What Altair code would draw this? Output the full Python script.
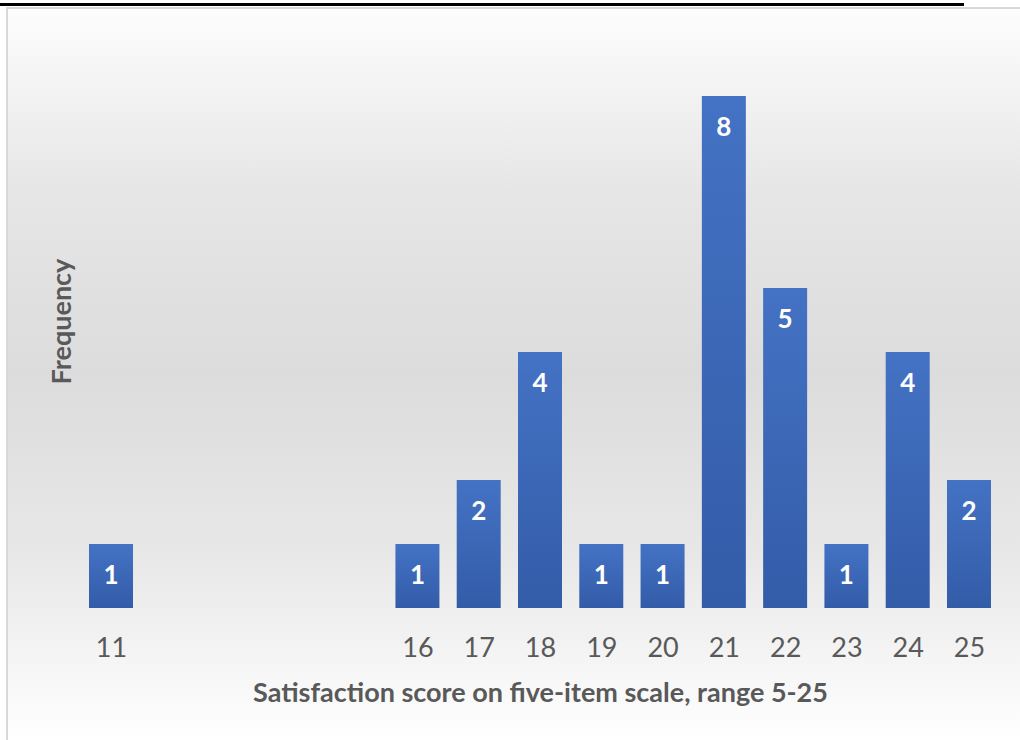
import altair as alt
import pandas as pd

scores = [11, 16, 17, 18, 19, 20, 21, 22, 23, 24, 25]
freq = [1, 1, 2, 4, 1, 1, 8, 5, 1, 4, 2]
tick_values = [11, 16, 17, 18, 19, 20, 21, 22, 23, 24, 25]
x_title = "Satisfaction score on five-item scale, range 5-25"
y_title = "Frequency"

df = pd.DataFrame({"score": scores, "freq": freq})
one = pd.DataFrame({"a": [0]})

FONT = "Lato"
GREY = "#595959"

bg = alt.Chart(one).mark_rect(
    color=alt.Gradient(
        gradient="linear",
        stops=[
            alt.GradientStop(color="#fdfdfd", offset=0),
            alt.GradientStop(color="#e6e6e6", offset=0.25),
            alt.GradientStop(color="#dcdcdc", offset=0.5),
            alt.GradientStop(color="#e8e8e8", offset=0.75),
            alt.GradientStop(color="#ffffff", offset=1),
        ],
        x1=0, y1=0, x2=0, y2=1,
    ),
    stroke="#d9d9d9",
    strokeWidth=2,
).encode(
    x=alt.value(-13), x2=alt.value(1002), y=alt.value(-32), y2=alt.value(702)
)

topline = alt.Chart(one).mark_rule(color="black", strokeWidth=3).encode(
    x=alt.value(-20), x2=alt.value(944), y=alt.value(-35.5)
)

xscale = alt.Scale(domain=[9.515, 25.506], nice=False, zero=False, padding=0)
yscale = alt.Scale(domain=[0, 8.875], nice=False, padding=0)

bars = alt.Chart(df).mark_bar(
    size=44,
    color=alt.Gradient(
        gradient="linear",
        stops=[
            alt.GradientStop(color="#4472c4", offset=0),
            alt.GradientStop(color="#335ca8", offset=1),
        ],
        x1=0, y1=0, x2=0, y2=1,
    ),
).encode(
    x=alt.X(
        "score:Q",
        scale=xscale,
        axis=alt.Axis(
            values=tick_values,
            title=x_title,
            domain=False,
            ticks=False,
            grid=False,
            zindex=2,
            labelFont=FONT,
            labelFontSize=27,
            labelColor=GREY,
            labelPadding=40,
            labelBaseline="middle",
            format="d",
            titleFont=FONT,
            titleFontSize=27,
            titleFontWeight="bold",
            titleColor=GREY,
            titleX=520,
            titleY=85,
            titleBaseline="middle",
        ),
    ),
    y=alt.Y(
        "freq:Q",
        scale=yscale,
        axis=alt.Axis(
            title=y_title,
            domain=False,
            ticks=False,
            labels=False,
            grid=False,
            zindex=2,
            titleFont=FONT,
            titleFontSize=27,
            titleFontWeight="bold",
            titleColor=GREY,
            titleAngle=270,
            titleX=42,
            titleY=281,
            titleBaseline="middle",
            titleAlign="center",
        ),
    ),
)

labels = alt.Chart(df).mark_text(
    font=FONT, fontSize=26, fontWeight="bold", color="white", baseline="middle", dy=32
).encode(
    x=alt.X("score:Q", scale=xscale),
    y=alt.Y("freq:Q", scale=yscale),
    text=alt.Text("freq:Q"),
)

chart = alt.layer(bg, topline, bars, labels).properties(
    width=980,
    height=568,
    autosize=alt.AutoSizeParams(type="none"),
    padding={"left": 20, "top": 40, "right": 20, "bottom": 132},
    background="white",
).configure_view(stroke=None)

chart.save("out.html", embed_options={"renderer": "svg", "actions": False})
